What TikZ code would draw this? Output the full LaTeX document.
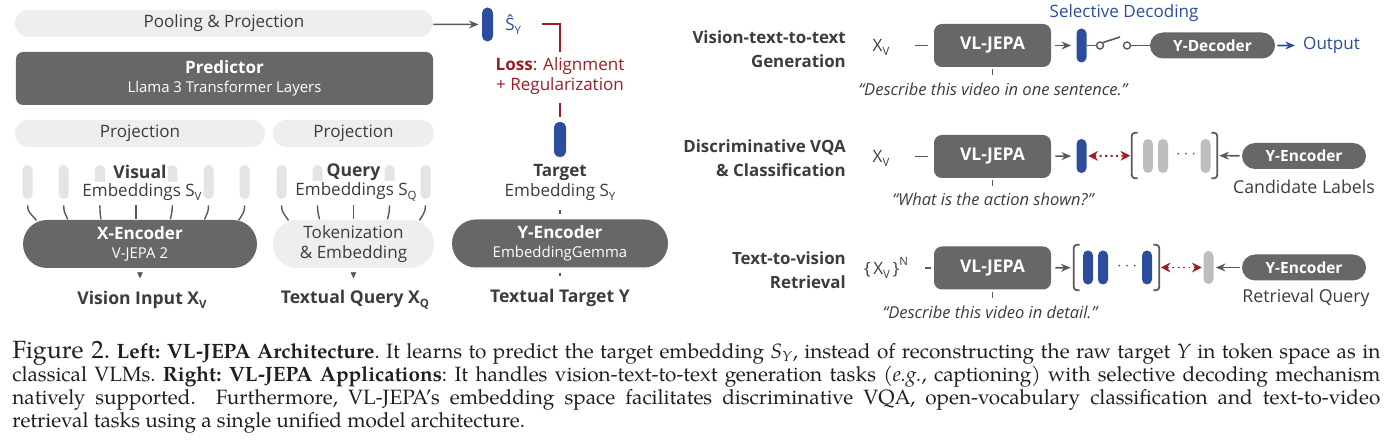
\documentclass[tikz,border=0pt]{standalone}
\usepackage{fontspec}
\setsansfont{Open Sans}
\newfontfamily\capfont{texgyrepagella}[Extension=.otf, UprightFont=*-regular, BoldFont=*-bold, ItalicFont=*-italic, BoldItalicFont=*-bolditalic]
\usepackage{xcolor}
\usepackage{tikz}
\usetikzlibrary{positioning, arrows.meta, calc, shapes.misc}
\definecolor{jpDark}{HTML}{676767}
\definecolor{jpPill}{HTML}{EEEEEE}
\definecolor{jpTok}{HTML}{E4E4E4}
\definecolor{jpTokB}{HTML}{BDBDBD}
\definecolor{jpBlue}{HTML}{2C4D9C}
\definecolor{jpRed}{HTML}{9E1C26}
\definecolor{jpText}{HTML}{3C3C3C}
\definecolor{jpLine}{HTML}{595959}
\newcommand{\lsub}[1]{\raisebox{-0.45ex}{\fontsize{6.5}{6.5}\selectfont #1}}
\newcommand{\lsup}[1]{\raisebox{0.9ex}{\fontsize{6.5}{6.5}\selectfont #1}}

\begin{document}
\begin{tikzpicture}[x=0.2mm, y=-0.2mm, font=\sffamily\fontsize{9.7}{11.4}\selectfont, text=jpText,
pill/.style={rounded rectangle, fill=jpPill, text=jpText, minimum height=0.54cm, inner sep=0pt},
enc/.style={rounded rectangle, fill=jpDark, text=white, align=center, minimum height=0.96cm, inner sep=0pt, font=\sffamily\fontsize{9.7}{10.8}\selectfont},
pred/.style={rounded corners=4pt, fill=jpDark, text=white, align=center, minimum width=8.34cm, minimum height=1.06cm, inner sep=0pt, font=\sffamily\fontsize{9.7}{10.8}\selectfont},
vljepa/.style={rounded corners=4.5pt, fill=jpDark, text=white, minimum width=2.34cm, minimum height=0.86cm, inner sep=0pt, font=\sffamily\bfseries\fontsize{10}{12}\selectfont},
smallenc/.style={rounded rectangle, fill=jpDark, text=white, minimum width=2.48cm, minimum height=0.52cm, inner sep=0pt, font=\sffamily\bfseries\fontsize{8.8}{10}\selectfont},
tok/.style={fill=jpTok, minimum width=0.2cm, minimum height=0.68cm, inner sep=0pt, rounded corners=0.099cm},
btok/.style={tok, fill=jpBlue},
gtok/.style={tok, fill=jpTokB},
lbl/.style={font=\sffamily\bfseries\fontsize{10}{11.4}\selectfont},
task/.style={anchor=east, align=right, font=\sffamily\bfseries\fontsize{9.6}{13.8}\selectfont},
prompt/.style={font=\sffamily\itshape\fontsize{9.4}{11}\selectfont},
arr/.style={-{Stealth[length=5.5pt, width=4.5pt]}, line width=0.9pt, color=jpLine},
tinytip/.style={-{Triangle[length=3.4pt, width=3.2pt]}, line width=0.3pt, color=jpLine},
link/.style={line width=0.9pt, color=jpLine},
stub/.style={line width=0.6pt, color=jpLine},
fan/.style={line width=0.8pt, color=jpLine},
loss/.style={line width=1pt, color=jpRed},
sim/.style={{Stealth[length=5.5pt, width=5.5pt]}-{Stealth[length=5.5pt, width=5.5pt]}, dotted, line width=1.1pt, color=jpRed},
brk/.style={line width=1pt, color=jpLine, rounded corners=2pt},
hole/.style={circle, draw=jpLine, line width=0.8pt, minimum size=0.14cm, inner sep=0pt}]
\useasboundingbox (0,0) rectangle (1390,447);
\node[pill, minimum width=8.36cm] (pool) at (224,23.5) {Pooling \& Projection};
\node[pred] (pred) at (224.5,78.5) {\textbf{Predictor}\\{\fontsize{8.5}{10}\selectfont Llama 3 Transformer Layers}};
\node[pill, minimum width=5.0cm] (projv) at (140,133.5) {Projection};
\node[pill, minimum width=3.22cm] (projq) at (353.5,133.5) {Projection};
\node[tok] (v1) at (27.5,182) {}; \node[tok] (v2) at (63.7,182) {}; \node[tok] (v3) at (99.9,182) {}; \node[tok] (v4) at (136.1,182) {};
\node[tok] (v5) at (172.3,182) {}; \node[tok] (v6) at (208.5,182) {}; \node[tok] (v7) at (244.7,182) {};
\node[tok] (q1) at (281.5,182) {}; \node[tok] (q2) at (317.5,182) {}; \node[tok] (q3) at (353.5,182) {}; \node[tok] (q4) at (389.5,182) {}; \node[tok] (q5) at (425.5,182) {};
\node[lbl, fill=white, inner xsep=1pt, inner ysep=3pt] (vis) at (140,172) {Visual};
\node[fill=white, inner sep=1pt] (visemb) at (142,192) {Embeddings S\lsub{V}};
\node[lbl, fill=white, inner xsep=1pt, inner ysep=3pt] (qry) at (353.5,172) {Query};
\node[fill=white, inner sep=1pt] (qryemb) at (356,192) {Embeddings S\lsub{Q}};
\node[enc, minimum width=4.68cm] (xenc) at (140,244) {\textbf{X-Encoder}\\{\fontsize{8.5}{10}\selectfont V-JEPA 2}};
\node[pill, minimum width=3.22cm, minimum height=0.96cm, align=center] (tokn) at (353.5,244) {Tokenization\\\& Embedding};
\draw[fan] ($(v1.south)+(0,6)$) .. controls +(0,7) and +(-5,-6) .. ($(v1.south)+(9,21)$);
\draw[fan] ($(v2.south)+(0,6)$) .. controls +(0,7) and +(-2.5,-6) .. ($(v2.south)+(4,20)$);
\draw[fan] ($(v3.south)+(0,6)$) .. controls +(0,7) and +(-0.6,-6) .. ($(v3.south)+(1,20)$);
\draw[fan] ($(v4.south)+(0,6)$) -- ($(v4.south)+(0,20)$);
\draw[fan] ($(v5.south)+(0,6)$) .. controls +(0,7) and +(1.2,-6) .. ($(v5.south)+(-2,20)$);
\draw[fan] ($(v6.south)+(0,6)$) .. controls +(0,7) and +(2.5,-6) .. ($(v6.south)+(-4,20)$);
\draw[fan] ($(v7.south)+(0,6)$) .. controls +(0,7) and +(3.5,-6) .. ($(v7.south)+(-6,21)$);
\draw[fan] ($(q1.south)+(0,6)$) .. controls +(0,7) and +(-4,-6) .. ($(q1.south)+(7,21)$);
\draw[fan] ($(q2.south)+(0,6)$) .. controls +(0,7) and +(-1.2,-6) .. ($(q2.south)+(2,20)$);
\draw[fan] ($(q3.south)+(0,6)$) -- ($(q3.south)+(0,20)$);
\draw[fan] ($(q4.south)+(0,6)$) .. controls +(0,7) and +(1.2,-6) .. ($(q4.south)+(-2,20)$);
\draw[fan] ($(q5.south)+(0,6)$) .. controls +(0,7) and +(3.5,-6) .. ($(q5.south)+(-6,21)$);
\node[lbl] (vin) at (142,300) {Vision Input X\lsub{V}};
\node[lbl] (qin) at (355,300) {Textual Query X\lsub{Q}};
\draw[tinytip] (xenc.south) ++(0,4) -- ++(0,6); \draw[tinytip] (tokn.south) ++(0,4) -- ++(0,6);
\node[btok, minimum width=0.22cm, rounded corners=0.109cm] (shat) at (487.5,24.5) {};
\node[anchor=west, inner sep=0pt, text=jpBlue] (shatlbl) at (505,25) {Ŝ\lsub{Y}};
\draw[arr, shorten >=1.7pt] (pool) -- (shat);
\coordinate (lossin) at (542,24);
\node[align=center, inner sep=0pt, text=jpRed] (loss) at (560,76) {\textbf{Loss}: Alignment\\+ Regularization};
\node[btok, minimum width=0.24cm, minimum height=0.7cm, rounded corners=0.119cm] (tgt) at (560,139.5) {};
\draw[loss, shorten >=3pt] (lossin) -| (loss.north);
\draw[loss, shorten <=4.5pt, shorten >=2.8pt] (loss.south) -- (tgt.north);
\node[align=center, inner sep=0pt] (tgtlbl) at (560,182) {\textbf{Target}\\Embedding S\lsub{Y}};
\node[enc, minimum width=4.32cm] (yenc) at (560,243.5) {\textbf{Y-Encoder}\\{\fontsize{8.5}{10}\selectfont EmbeddingGemma}};
\node[lbl] (ytxt) at (560,298) {Textual Target Y};
\draw[stub, shorten <=5.5pt, shorten >=2.8pt] (tgtlbl.south) -- (yenc.north); \draw[stub, shorten <=2.8pt, shorten >=4pt] (yenc.south) -- (ytxt.north);
\node[task] (task1) at (852,49) {Vision-text-to-text\\Generation};
\node[task] (task2) at (852,158) {Discriminative VQA\\\& Classification};
\node[task] (task3) at (852,270.5) {Text-to-vision\\Retrieval};
\node (xv1) at (881,47) {X\lsub{V}}; \node (xv2) at (881,158) {X\lsub{V}}; \node (xv3) at (886,268) {\{\,X\lsub{V}\,\}\lsup{N}};
\node[vljepa] (vj1) at (992.5,45.5) {VL-JEPA}; \node[vljepa] (vj2) at (992.5,156.5) {VL-JEPA}; \node[vljepa] (vj3) at (992.5,268) {VL-JEPA};
\draw[link] (vj1.west) ++(-19,0) -- ++(13,0); \draw[link] (vj2.west) ++(-19,0) -- ++(13,0); \draw[link] (vj3.west) ++(-9,0) -- ++(6,0);
\draw[stub] (vj1.south) ++(0,2) -- ++(0,6); \draw[stub] (vj2.south) ++(0,2) -- ++(0,6); \draw[stub] (vj3.south) ++(0,2) -- ++(0,6);
\node[prompt] (p1) at (993,89) {“Describe this video in one sentence.”};
\node[prompt] (p2) at (993,199) {“What is the action shown?”};
\node[prompt] (p3) at (990,312) {“Describe this video in detail.”};
\node[btok] (b1) at (1081.5,45.5) {};
\node[hole] (sw1) at (1100,45.5) {}; \node[hole] (sw2) at (1127,45.5) {};
\coordinate (lever) at (1120,37);
\node[smallenc, minimum width=2.5cm] (ydec) at (1212.5,45.5) {Y-Decoder};
\node[anchor=west, text=jpBlue] (out) at (1297,45.5) {Output};
\node[text=jpBlue] (seldec) at (1124,13) {Selective Decoding};
\draw[arr, shorten <=2.3pt, shorten >=2.8pt] (vj1) -- (b1); \draw[link] (b1) -- (sw1); \draw[link] (sw1.north east) -- (lever); \draw[link] (sw2) -- (ydec);
\draw[arr, color=jpBlue, shorten <=1.1pt, shorten >=1.1pt] (ydec) -- (out);
\node[btok] (b2) at (1081.5,156) {};
\node[minimum width=1.7cm, minimum height=0.9cm, inner sep=0pt] (cset) at (1174.5,155.5) {};
\node[gtok] (c1) at (1148,156) {}; \node[gtok] (c2) at (1163,156) {}; \node[text=jpLine] (cdots) at (1186,155) {$\cdots$}; \node[gtok] (c3) at (1205.5,156) {};
\draw[brk] ($(cset.north west)+(6,0)$) -- (cset.north west) -- (cset.south west) -- ($(cset.south west)+(6,0)$);
\draw[brk] ($(cset.north east)+(-6,0)$) -- (cset.north east) -- (cset.south east) -- ($(cset.south east)+(-6,0)$);
\node[smallenc] (ye2) at (1304,156) {Y-Encoder};
\node[font=\sffamily\fontsize{10.1}{12}\selectfont] (cand) at (1304,187) {Candidate Labels};
\draw[arr, shorten <=2.3pt, shorten >=2.8pt] (vj2) -- (b2); \draw[sim, shorten <=0.8pt, shorten >=0.8pt] (b2) -- (cset); \draw[arr, shorten <=1.1pt, shorten >=1.1pt] (ye2) -- (cset);
\node[minimum width=1.7cm, minimum height=0.9cm, inner sep=0pt] (rset) at (1116.5,267.5) {};
\node[btok] (r1) at (1088,267.5) {}; \node[btok] (r2) at (1103,267.5) {}; \node[text=jpLine] (rdots) at (1127,266.5) {$\cdots$}; \node[btok] (r3) at (1147,267.5) {};
\draw[brk] ($(rset.north west)+(6,0)$) -- (rset.north west) -- (rset.south west) -- ($(rset.south west)+(6,0)$);
\draw[brk] ($(rset.north east)+(-6,0)$) -- (rset.north east) -- (rset.south east) -- ($(rset.south east)+(-6,0)$);
\node[gtok, minimum height=0.66cm] (rq) at (1208.5,267.5) {};
\node[smallenc] (ye3) at (1304,267.5) {Y-Encoder};
\node[font=\sffamily\fontsize{10.1}{12}\selectfont] (rqtxt) at (1306,298) {Retrieval Query};
\draw[arr, shorten <=2.3pt, shorten >=1.7pt] (vj3) -- (rset); \draw[sim, shorten <=0.8pt, shorten >=0.8pt] (rset) -- (rq); \draw[arr, shorten <=1.1pt, shorten >=1.1pt] (ye3) -- (rq);
\node[anchor=north west, inner sep=0pt, text width=27.36cm, align=justify, text=black!88, font=\capfont\fontsize{11.8}{13}\selectfont\frenchspacing] (caption) at (12,341) {{\fontsize{14.2}{13}\selectfont Figure 2.} \textbf{Left: VL-JEPA Architecture}. It learns to predict the target embedding \textit{S}\textsubscript{\textit{Y}}, instead of reconstructing the raw target \textit{Y} in token space as in\linebreak classical VLMs. \textbf{Right: VL-JEPA Applications}: It handles vision-text-to-text generation tasks (\textit{e.g.}, captioning) with selective decoding mechanism\linebreak natively supported.\ \ Furthermore, VL-JEPA’s embedding space facilitates discriminative VQA, open-vocabulary classification and text-to-video\linebreak retrieval tasks using a single unified model architecture.};
\end{tikzpicture}
\end{document}
